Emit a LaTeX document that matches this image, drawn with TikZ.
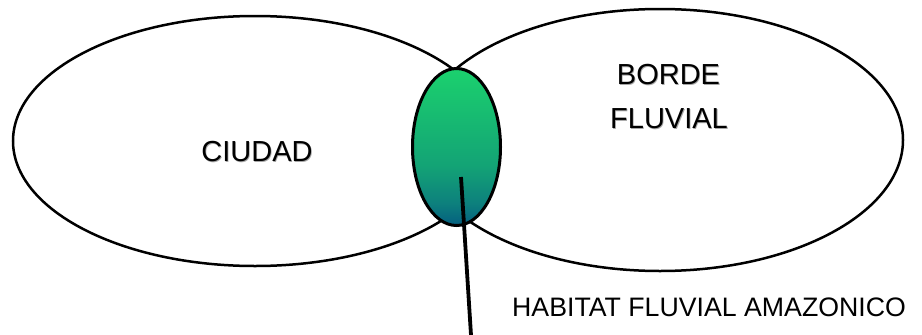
\documentclass[tikz,border=0pt]{standalone}
\usepackage{fontspec}
\setmainfont{Liberation Sans}
\usetikzlibrary{shapes.geometric}
\pgfdeclareverticalshading{habitatfade}{100bp}{
  rgb(0bp)=(0.016,0.37,0.50);
  rgb(25bp)=(0.016,0.37,0.50);
  rgb(32bp)=(0.05,0.50,0.49);
  rgb(44bp)=(0.075,0.64,0.46);
  rgb(75bp)=(0.106,0.82,0.43);
  rgb(100bp)=(0.106,0.82,0.43)}
\newcommand{\softshadow}[1]{\leavevmode\rlap{\hspace{0.8pt}\raisebox{-0.8pt}{\textcolor{black!35}{#1}}}#1}
\tikzset{
  bigoval/.style={ellipse,draw=black,line width=2.5pt,inner sep=0pt,outer sep=0pt,fill=white},
  midoval/.style={ellipse,draw=black,line width=3pt,inner sep=0pt,outer sep=0pt,shading=habitatfade},
  biglabel/.style={font=\fontsize{29}{29}\selectfont,text=black,inner sep=0pt},
  smalllabel/.style={font=\fontsize{26.7}{27}\selectfont,text=black,inner sep=0pt},
  pointer/.style={draw=black,line width=3.8pt}
}
\begin{document}
\begin{tikzpicture}[x=1pt,y=-1pt]
\useasboundingbox (0,0) rectangle (922,335);
\node[bigoval,minimum width=484pt,minimum height=250pt] (ciudad) at (255,141) {};
\node[bigoval,minimum width=486pt,minimum height=262pt] (borde) at (660,140) {};
\node[midoval,minimum width=88pt,minimum height=157pt] (habitat) at (456.5,147) {};
\node[biglabel] (l1) at (257,152) {\softshadow{CIUDAD}};
\node[biglabel] (l2) at (668.5,75) {\softshadow{BORDE}};
\node[biglabel] (l3) at (669,119) {\softshadow{FLUVIAL}};
\node[smalllabel,anchor=base west] (l4) at (512,316) {HABITAT FLUVIAL AMAZONICO};
\coordinate (p1) at (461,177);
\coordinate (p2) at (471,335);
\draw[pointer] (p1) -- (p2);
\end{tikzpicture}
\end{document}
